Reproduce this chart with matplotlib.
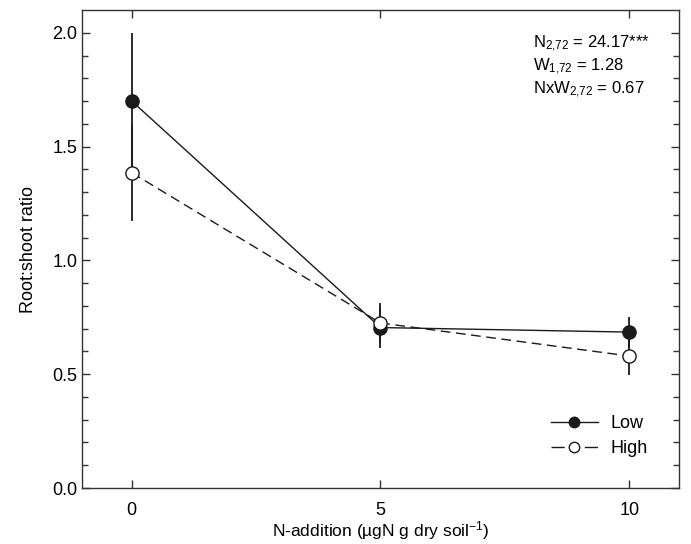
import matplotlib.pyplot as plt
from matplotlib.lines import Line2D

plt.rcParams['font.family'] = ['Liberation Sans', 'DejaVu Sans']
plt.rcParams['mathtext.default'] = 'regular'

# N-addition levels and root:shoot ratios (mean +/- error)
n_add = [0, 5, 10]
low_mean = [1.70, 0.705, 0.685]
low_err = [0.30, 0.09, 0.065]
high_mean = [1.385, 0.725, 0.58]
high_err = [0.21, 0.09, 0.083]

stats_lines = [r'N$_{2{,}72}$ = 24.17***', r'W$_{1{,}72}$ = 1.28', r'NxW$_{2{,}72}$ = 0.67']

fig = plt.figure(figsize=(6.91, 5.44), dpi=100)
ax = fig.add_axes([0.1187, 0.1029, 0.8639, 0.8787])

dark = '#1a1a1a'
ax.errorbar(n_add, low_mean, yerr=low_err, color=dark, lw=1.0, elinewidth=1.3,
            marker='o', ms=9.5, mfc=dark, mec=dark, capsize=0, zorder=3)
ax.errorbar(n_add, high_mean, yerr=high_err, color=dark, lw=1.0, elinewidth=1.3,
            ls=(0, (7, 4)), marker='o', ms=9.5, mfc='white', mec=dark, capsize=0, zorder=4)

ax.set_xlim(-1, 11)
ax.set_ylim(0, 2.1)
ax.set_xticks([0, 5, 10])
ax.set_yticks([0, 0.5, 1.0, 1.5, 2.0])
ax.set_yticks([i / 10 for i in range(21)], minor=True)
ax.set_yticklabels(['0.0', '0.5', '1.0', '1.5', '2.0'])
ax.tick_params(direction='in', which='both', top=True, right=True, labelsize=13,
               width=1, color='#333333')
ax.tick_params(which='major', length=6)
ax.tick_params(which='minor', length=4)
ax.tick_params(axis='x', pad=10)
for s in ax.spines.values():
    s.set_linewidth(1)
    s.set_color('#333333')

ax.set_xlabel('N-addition (\u00b5gN g dry soil$^{-1}$)', fontsize=12.5, labelpad=0)
ax.set_ylabel('Root:shoot ratio', fontsize=13, labelpad=11)

for i, t in enumerate(stats_lines):
    ax.text(0.755, 0.93 - i * 0.048, t, transform=ax.transAxes, fontsize=12,
            va='center', ha='left')

handles = [
    Line2D([], [], color=dark, lw=1.0, marker='o', ms=7.5, mfc=dark, mec=dark),
    Line2D([], [], color=dark, lw=1.0, ls=(0, (9.5, 14.5)), marker='o', ms=7.5,
           mfc='white', mec=dark),
]
ax.legend(handles, ['Low', 'High'], loc='upper left', bbox_to_anchor=(0.785, 0.152),
          frameon=False, fontsize=13, handlelength=2.6, handletextpad=0.7,
          labelspacing=0.45, borderpad=0, borderaxespad=0)

fig.savefig('out.png', dpi=100)
